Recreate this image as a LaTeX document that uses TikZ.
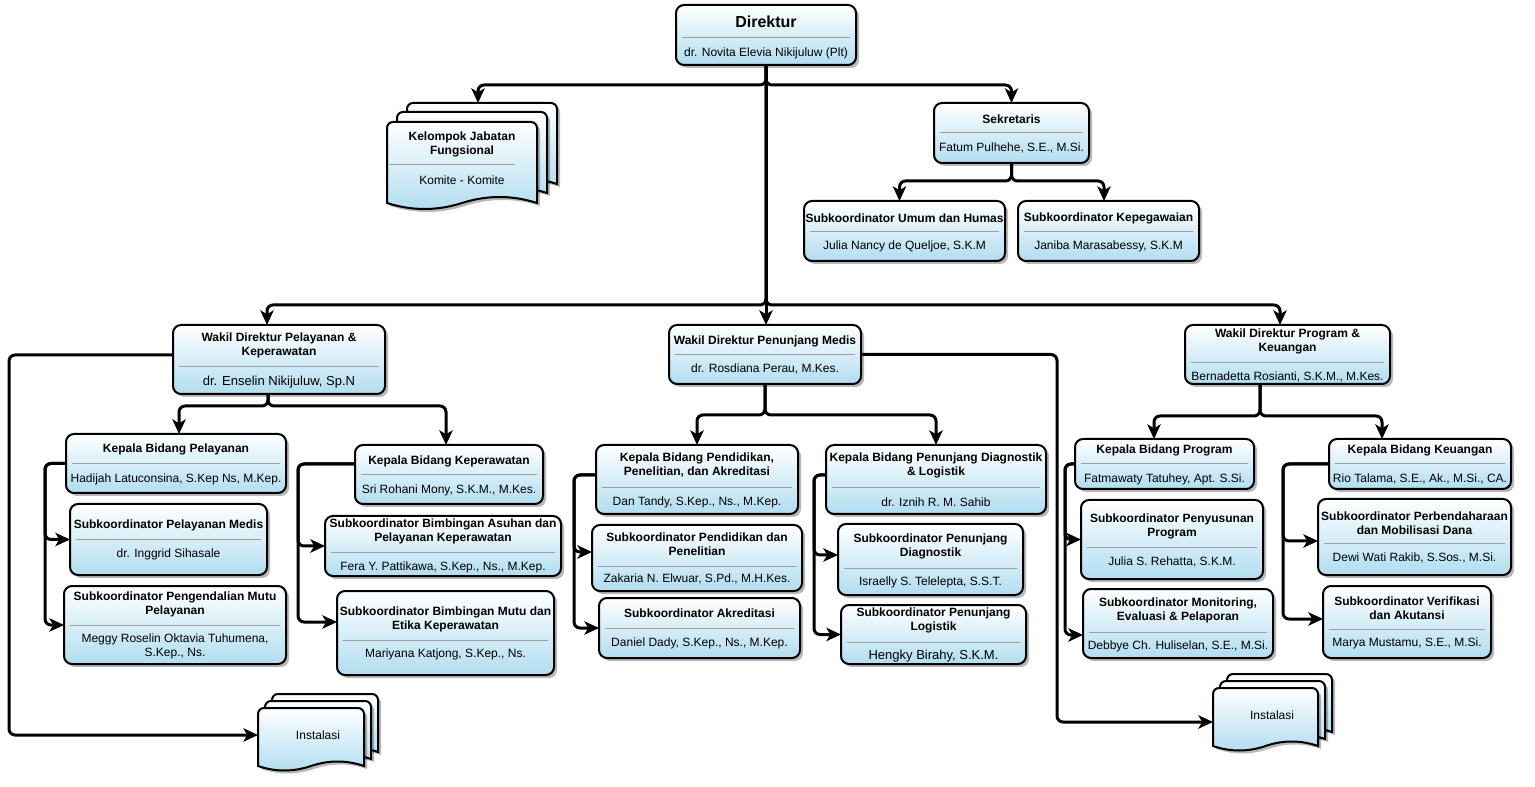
\documentclass[tikz,border=0pt]{standalone}
\usepackage{fontspec}
\setmainfont{Liberation Sans}
\usetikzlibrary{arrows.meta,shadows,calc}
\definecolor{boxblue}{HTML}{B1DDF0}
\definecolor{sepgray}{HTML}{A0A0A0}
\tikzset{
  obx/.style={draw=black, line width=1.5pt, rounded corners=6pt, top color=white, bottom color=boxblue,
    drop shadow={shadow xshift=2.25pt, shadow yshift=-2.25pt, opacity=0.28, fill=black},
    inner sep=0pt, outer sep=0pt},
  docst/.style={draw=black, line width=1.5pt, top color=white, bottom color=boxblue,
    drop shadow={shadow xshift=2.25pt, shadow yshift=-2.25pt, opacity=0.28, fill=black}},
  sepl/.style={draw=sepgray, line width=0.75pt},
  ttl/.style={font=\fontsize{9}{10.5}\selectfont\bfseries, align=center, inner sep=0pt},
  nm/.style={font=\fontsize{9}{10.5}\selectfont, align=center, inner sep=0pt},
  nmb/.style={font=\fontsize{9.75}{11}\selectfont, align=center, inner sep=0pt},
  conn/.style={line width=2.25pt, rounded corners=4.5pt, -{Stealth[length=11pt,width=10pt,inset=3pt]}}
}
\newcommand\obox[6]{%
  \node[obx, minimum width={(#4-#2)*0.75pt}, minimum height={(#5-#3)*0.75pt}] (#1) at ({(#2+#4)/2},{(#3+#5)/2}) {};
  \draw[sepl] ({#2+6},#6) -- ({#4-6},#6);
}
\newcommand\docsh[6]{%
  \path[docst] (#2,#5) -- (#2,{#3+6}) .. controls (#2,{#3+2.7}) and ({#2+2.7},#3) .. ({#2+6},#3)
    -- ({#4-6},#3) .. controls ({#4-2.7},#3) and (#4,{#3+2.7}) .. (#4,{#3+6})
    -- (#4,#5) .. controls ({#4-(#4-#2)/6},{#5-4*#6/3}) and ({(#2+#4)/2+(#4-#2)/6},{#5-4*#6/3}) .. ({(#2+#4)/2},#5)
    .. controls ({(#2+#4)/2-(#4-#2)/6},{#5+4*#6/3}) and ({#2+(#4-#2)/6},{#5+4*#6/3}) .. (#2,#5) -- cycle;
  \node[inner sep=0pt, outer sep=0pt, minimum width={(#4-#2)*0.75pt}, minimum height={(#5-#3)*0.75pt}] (#1) at ({(#2+#4)/2},{(#3+#5)/2}) {};
}
\begin{document}
\begin{tikzpicture}[x=0.75pt,y=-0.75pt]
\fill[white] (0,0) rectangle (1535,787);
\useasboundingbox (0,0) rectangle (1535,787);

% ---- Direktur
\obox{dir}{676}{5}{856}{65}{38}
\node[font=\fontsize{12}{14}\selectfont\bfseries, inner sep=0pt] (dirT) at (766,22) {Direktur};
\node[nm] (dirN) at (766,53) {dr. Novita Elevia Nikijuluw (Plt)};

% ---- Kelompok Jabatan Fungsional (stacked documents)
\docsh{kjf3}{407}{103}{557}{184}{6}
\docsh{kjf2}{397}{112}{547}{193}{6}
\docsh{kjf}{387}{122}{537}{203}{6}
\draw[sepl] (389,165) -- (515,165);
\node[ttl] (kjfT) at (462,144.5) {Kelompok Jabatan\\Fungsional};
\node[nm] (kjfN) at (462,180) {Komite - Komite};

% ---- Sekretaris
\obox{sek}{934}{103}{1089}{163}{133}
\node[ttl] (sekT) at (1011.5,119) {Sekretaris};
\node[nm] (sekN) at (1011.5,148) {Fatum Pulhehe, S.E., M.Si.};
\obox{sum}{804}{201}{1005}{261}{232}
\node[ttl] (sumT) at (904.5,218) {Subkoordinator Umum dan Humas};
\node[nm] (sumN) at (904.5,246) {Julia Nancy de Queljoe, S.K.M};
\obox{skp}{1018}{201}{1199}{261}{232}
\node[ttl] (skpT) at (1108.5,218) {Subkoordinator Kepegawaian};
\node[nm] (skpN) at (1108.5,246) {Janiba Marasabessy, S.K.M};

% ---- Wakil Direktur
\obox{wp}{173}{325}{385}{394}{367}
\node[ttl] (wpT) at (279,345) {Wakil Direktur Pelayanan \&\\Keperawatan};
\node[nmb] (wpN) at (279,382) {dr. Enselin Nikijuluw, Sp.N};
\obox{wpm}{669}{325}{861}{384}{355}
\node[ttl] (wpmT) at (765,341) {Wakil Direktur Penunjang Medis};
\node[nm] (wpmN) at (765,369) {dr. Rosdiana Perau, M.Kes.};
\obox{wpk}{1185}{325}{1390}{384}{363}
\node[ttl] (wpkT) at (1287.5,341.5) {Wakil Direktur Program \&\\Keuangan};
\node[nm] (wpkN) at (1287.5,377) {Bernadetta Rosianti, S.K.M., M.Kes.};

% ---- Pelayanan & Keperawatan
\obox{kbp}{66}{434}{286}{493}{464}
\node[ttl] (kbpT) at (176,449) {Kepala Bidang Pelayanan};
\node[nm] (kbpN) at (176,479) {Hadijah Latuconsina, S.Kep Ns, M.Kep.};
\obox{kbk}{355}{445}{543}{504}{475}
\node[ttl] (kbkT) at (449,461) {Kepala Bidang Keperawatan};
\node[nm] (kbkN) at (449,490) {Sri Rohani Mony, S.K.M., M.Kes.};
\obox{spm}{70}{504}{267}{575}{540}
\node[ttl] (spmT) at (168.5,525) {Subkoordinator Pelayanan Medis};
\node[nm] (spmN) at (168.5,554) {dr. Inggrid Sihasale};
\obox{smp}{64}{586}{286}{664}{625}
\node[ttl] (smpT) at (175,604.5) {Subkoordinator Pengendalian Mutu\\Pelayanan};
\node[nm] (smpN) at (175,646.5) {Meggy Roselin Oktavia Tuhumena,\\S.Kep., Ns.};
\obox{sba}{325}{516}{561}{576}{553}
\node[ttl] (sbaT) at (443,531.5) {Subkoordinator Bimbingan Asuhan dan\\Pelayanan Keperawatan};
\node[nm] (sbaN) at (443,567) {Fera Y. Pattikawa, S.Kep., Ns., M.Kep.};
\obox{sbm}{337}{591}{554}{675}{640}
\node[ttl] (sbmT) at (445.5,619) {Subkoordinator Bimbingan Mutu dan\\Etika Keperawatan};
\node[nm] (sbmN) at (445.5,654) {Mariyana Katjong, S.Kep., Ns.};

% ---- Penunjang Medis
\obox{kpd}{596}{445}{798}{514}{488}
\node[ttl] (kpdT) at (697,465.5) {Kepala Bidang Pendidikan,\\Penelitian, dan Akreditasi};
\node[nm] (kpdN) at (697,502) {Dan Tandy, S.Kep., Ns., M.Kep.};
\obox{kpg}{826}{445}{1046}{514}{488}
\node[ttl] (kpgT) at (936,465.5) {Kepala Bidang Penunjang Diagnostik\\\& Logistik};
\node[nm] (kpgN) at (936,502) {dr. Iznih R. M. Sahib};
\obox{spp}{592}{525}{802}{591}{566}
\node[ttl] (sppT) at (697,544) {Subkoordinator Pendidikan dan\\Penelitian};
\node[nm] (sppN) at (697,579) {Zakaria N. Elwuar, S.Pd., M.H.Kes.};
\obox{sak}{599}{598}{800}{658}{628}
\node[ttl] (sakT) at (699.5,613) {Subkoordinator Akreditasi};
\node[nm] (sakN) at (699.5,643) {Daniel Dady, S.Kep., Ns., M.Kep.};
\obox{spd}{838}{524}{1023}{595}{568}
\node[ttl] (spdT) at (930.5,546) {Subkoordinator Penunjang\\Diagnostik};
\node[nm] (spdN) at (930.5,582) {Israelly S. Telelepta, S.S.T.};
\obox{spl}{841}{605}{1026}{664}{642}
\node[ttl] (splT) at (933.5,620) {Subkoordinator Penunjang\\Logistik};
\node[nmb] (splN) at (933.5,656) {Hengky Birahy, S.K.M.};

% ---- Program & Keuangan
\obox{kbpr}{1075}{439}{1254}{489}{464}
\node[ttl] (kbprT) at (1164.5,450) {Kepala Bidang Program};
\node[nm] (kbprN) at (1164.5,479) {Fatmawaty Tatuhey, Apt. S.Si.};
\obox{kbku}{1329}{439}{1511}{489}{464}
\node[ttl] (kbkuT) at (1420,450) {Kepala Bidang Keuangan};
\node[nm] (kbkuN) at (1420,479) {Rio Talama, S.E., Ak., M.Si., CA.};
\obox{spr}{1081}{500}{1263}{579}{548}
\node[ttl] (sprT) at (1172,526) {Subkoordinator Penyusunan\\Program};
\node[nm] (sprN) at (1172,562) {Julia S. Rehatta, S.K.M.};
\obox{smo}{1083}{589}{1273}{658}{632}
\node[ttl] (smoT) at (1178,610) {Subkoordinator Monitoring,\\Evaluasi \& Pelaporan};
\node[nm] (smoN) at (1178,646) {Debbye Ch. Huliselan, S.E., M.Si.};
\obox{spb}{1318}{499}{1511}{575}{544}
\node[ttl] (spbT) at (1414.5,523) {Subkoordinator Perbendaharaan\\dan Mobilisasi Dana};
\node[nm] (spbN) at (1414.5,558) {Dewi Wati Rakib, S.Sos., M.Si.};
\obox{svk}{1323}{586}{1491}{658}{629}
\node[ttl] (svkT) at (1407,608) {Subkoordinator Verifikasi\\dan Akutansi};
\node[nm] (svkN) at (1407,643) {Marya Mustamu, S.E., M.Si.};

% ---- Instalasi (stacked documents)
\docsh{ins1c}{272}{694}{378}{752}{4.5}
\docsh{ins1b}{265}{701}{371}{759}{4.5}
\docsh{ins1}{258}{708}{364}{766}{4.5}
\node[nm] (ins1T) at (318,735) {Instalasi};
\docsh{ins2c}{1227}{674}{1332}{732}{4.5}
\docsh{ins2b}{1220}{681}{1325}{739}{4.5}
\docsh{ins2}{1213}{688}{1318}{746}{4.5}
\node[nm] (ins2T) at (1272,715) {Instalasi};

% ---- Connectors
\draw[conn] (dir.south) |- (478,85) -- ($(kjf3.north)+(-4,0)$);
\draw[conn] (dir.south) |- (1011.5,85) -- (sek.north);
\draw[conn] (dir.south) |- (267,305) -- ($(wp.north)+(-12,0)$);
\draw[conn] (dir.south) -- (dir.south |- wpm.north);
\draw[conn] (dir.south) |- (1280,305) -- ($(wpk.north)+(-7.5,0)$);

\draw[conn] (sek.south) |- (899.5,181) -- ($(sum.north)+(-5,0)$);
\draw[conn] (sek.south) |- (1104,181) -- ($(skp.north)+(-4.5,0)$);

\draw[conn] ($(wp.south)+(-11,0)$) |- (179,406) -- ($(kbp.north)+(3,0)$);
\draw[conn] ($(wp.south)+(-11,0)$) |- (446,406) -- ($(kbk.north)+(-3,0)$);
\draw[conn] (wpm.south) |- (697,415) -- (kpd.north);
\draw[conn] (wpm.south) |- (936,415) -- (kpg.north);
\draw[conn] ($(wpk.south)+(-27.5,0)$) |- (1154,416) -- ($(kbpr.north)+(-10.5,0)$);
\draw[conn] ($(wpk.south)+(-27.5,0)$) |- (1382,416) -- ($(kbku.north)+(-38,0)$);

\draw[conn] ($(wp.west)+(0,-4.5)$) -- (9,355) |- ($(ins1.west)+(0,-2)$);
\draw[conn] (wpm.east) -- (1057,354.5) |- ($(ins2.west)+(0,5)$);

\draw[conn] (kbp.west) -- (45,463.5) |- (spm.west);
\draw[conn] (kbp.west) -- (45,463.5) |- (smp.west);
\draw[conn] ($(kbk.west)+(0,-10.5)$) -- (298,464) |- (sba.west);
\draw[conn] ($(kbk.west)+(0,-10.5)$) -- (298,464) |- ($(sbm.west)+(0,-11)$);
\draw[conn] ($(kpd.west)+(0,-4.5)$) -- (574,475) |- ($(spp.west)+(0,-6)$);
\draw[conn] ($(kpd.west)+(0,-4.5)$) -- (574,475) |- (sak.west);
\draw[conn] ($(kpg.west)+(0,-4.5)$) -- (814,475) |- ($(spd.west)+(0,-4.5)$);
\draw[conn] ($(kpg.west)+(0,-4.5)$) -- (814,475) |- (spl.west);
\draw[conn] (kbpr.west) -- (1065,464) |- (spr.west);
\draw[conn] (kbpr.west) -- (1065,464) |- ($(smo.west)+(0,11.5)$);
\draw[conn] (kbku.west) -- (1283,464) |- ($(spb.west)+(0,4)$);
\draw[conn] (kbku.west) -- (1283,464) |- ($(svk.west)+(0,-3)$);
\end{tikzpicture}
\end{document}
